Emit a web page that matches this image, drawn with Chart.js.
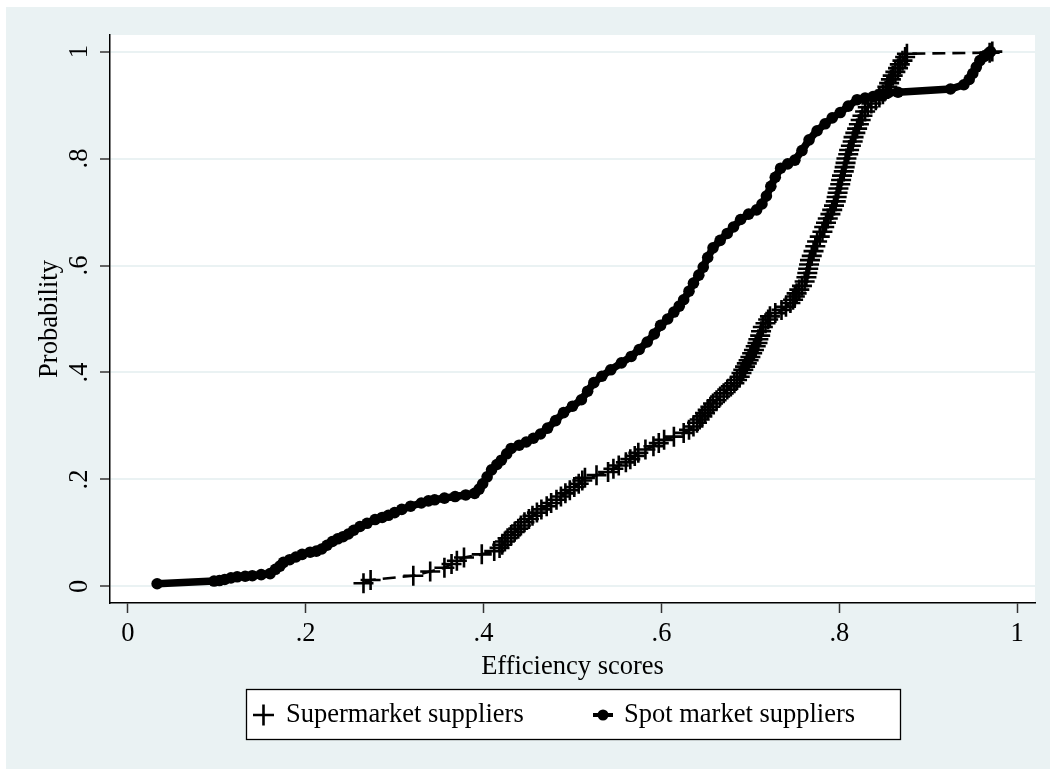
<!DOCTYPE html>
<html><head><meta charset="utf-8">
<script src="https://cdn.jsdelivr.net/npm/chart.js@4.4.1/dist/chart.umd.min.js"></script>
<style>html,body{margin:0;padding:0;background:#EAF2F3;overflow:hidden}canvas{display:block}</style>
</head><body>
<canvas id="c" width="1050" height="769"></canvas>
<script>
// ---------------- DATA ----------------
const seriesLabels = ['Supermarket suppliers', 'Spot market suppliers'];
const xTitle = 'Efficiency scores';
const yTitle = 'Probability';

const xTickValues = [0, 0.2, 0.4, 0.6, 0.8, 1];
const xTickLabels = ['0', '.2', '.4', '.6', '.8', '1'];
const yTickValues = [0, 0.2, 0.4, 0.6, 0.8, 1];
const yTickLabels = ['0', '.2', '.4', '.6', '.8', '1'];

// Supermarket suppliers: efficiency score (x) and cumulative probability (y)
const superX = [0.265,0.273,0.321,0.340,0.356,0.364,0.370,0.378,0.398,0.412,0.418,0.421,0.424,0.427,0.431,0.435,0.439,0.442,0.446,0.451,
  0.455,0.460,0.465,0.471,0.476,0.482,0.487,0.492,0.497,0.502,0.507,0.511,0.514,0.527,0.540,0.546,0.552,0.560,0.565,0.570,
  0.574,0.582,0.591,0.597,0.603,0.614,0.625,0.631,0.636,0.640,0.643,0.646,0.649,0.652,0.655,0.658,0.662,0.666,0.670,0.674,
  0.678,0.682,0.685,0.688,0.690,0.692,0.694,0.696,0.698,0.700,0.702,0.704,0.706,0.708,0.709,0.711,0.712,0.714,0.717,0.720,
  0.722,0.728,0.735,0.740,0.745,0.748,0.750,0.752,0.755,0.758,0.761,0.763,0.764,0.765,0.766,0.767,0.769,0.771,0.773,0.775,
  0.778,0.781,0.783,0.785,0.787,0.790,0.792,0.794,0.796,0.797,0.798,0.799,0.801,0.802,0.803,0.805,0.806,0.807,0.808,0.810,
  0.811,0.813,0.815,0.816,0.818,0.820,0.822,0.824,0.826,0.829,0.832,0.836,0.841,0.845,0.849,0.852,0.854,0.856,0.858,0.860,
  0.863,0.866,0.868,0.871,0.874,0.876,0.969,0.972];
const superY = [0.006,0.012,0.020,0.028,0.035,0.042,0.048,0.054,0.060,0.066,0.072,0.078,0.084,0.090,0.096,0.102,0.108,0.114,0.120,0.126,
  0.132,0.138,0.144,0.150,0.156,0.162,0.168,0.174,0.180,0.186,0.192,0.198,0.203,0.208,0.214,0.220,0.226,0.232,0.238,0.244,
  0.250,0.256,0.262,0.268,0.274,0.280,0.287,0.293,0.299,0.306,0.312,0.318,0.324,0.330,0.336,0.342,0.348,0.355,0.361,0.368,
  0.374,0.380,0.386,0.392,0.399,0.405,0.411,0.417,0.423,0.429,0.436,0.442,0.449,0.455,0.462,0.469,0.477,0.485,0.492,0.499,
  0.505,0.511,0.517,0.523,0.530,0.536,0.542,0.548,0.555,0.562,0.570,0.578,0.586,0.594,0.602,0.610,0.618,0.627,0.636,0.645,
  0.654,0.663,0.672,0.680,0.688,0.696,0.704,0.712,0.720,0.728,0.736,0.744,0.752,0.760,0.768,0.776,0.784,0.792,0.800,0.808,
  0.816,0.824,0.832,0.840,0.848,0.856,0.864,0.872,0.880,0.888,0.896,0.903,0.909,0.914,0.920,0.927,0.934,0.941,0.948,0.955,
  0.962,0.969,0.976,0.983,0.990,0.996,0.998,1.000];

// Spot market suppliers
const spotX = [0.033,0.097,0.103,0.109,0.116,0.123,0.132,0.140,0.150,0.160,0.166,0.171,0.175,0.182,0.189,0.196,0.205,0.212,0.218,0.224,
  0.230,0.236,0.242,0.248,0.254,0.261,0.269,0.278,0.286,0.293,0.300,0.308,0.318,0.330,0.338,0.345,0.356,0.368,0.380,0.390,
  0.395,0.399,0.404,0.409,0.415,0.420,0.426,0.431,0.440,0.448,0.456,0.464,0.472,0.481,0.490,0.500,0.510,0.517,0.524,0.533,
  0.543,0.555,0.566,0.575,0.584,0.592,0.599,0.607,0.614,0.620,0.625,0.631,0.636,0.642,0.647,0.652,0.658,0.666,0.674,0.681,
  0.689,0.698,0.707,0.713,0.718,0.723,0.728,0.734,0.742,0.750,0.758,0.766,0.775,0.784,0.792,0.801,0.810,0.820,0.829,0.838,
  0.846,0.855,0.866,0.925,0.940,0.946,0.950,0.954,0.958,0.963,0.968,0.970];
const spotY = [0.005,0.010,0.011,0.013,0.016,0.018,0.019,0.020,0.022,0.024,0.032,0.038,0.045,0.050,0.055,0.060,0.064,0.066,0.070,0.077,
  0.084,0.089,0.093,0.098,0.105,0.112,0.118,0.125,0.129,0.133,0.138,0.144,0.150,0.156,0.160,0.162,0.165,0.168,0.171,0.174,
  0.182,0.192,0.205,0.218,0.228,0.236,0.248,0.258,0.264,0.270,0.277,0.285,0.296,0.310,0.325,0.337,0.349,0.365,0.381,0.393,
  0.405,0.418,0.430,0.443,0.457,0.472,0.488,0.500,0.513,0.524,0.536,0.552,0.567,0.582,0.597,0.615,0.633,0.647,0.660,0.672,
  0.686,0.696,0.704,0.715,0.730,0.748,0.765,0.782,0.790,0.797,0.815,0.835,0.852,0.865,0.876,0.886,0.898,0.910,0.913,0.916,
  0.920,0.923,0.924,0.930,0.938,0.948,0.959,0.971,0.983,0.991,0.997,1.000];

// ---------------- STYLE ----------------
const FONT_FAMILY = '"Liberation Serif", "Times New Roman", Times, serif';
const FONT_SIZE = 26.5;
const BG = '#EAF2F3';

const superData = superX.map((x, i) => ({x: x, y: superY[i]}));
const spotData = spotX.map((x, i) => ({x: x, y: spotY[i]}));

const bgLegendPlugin = {
  id: 'bgLegend',
  beforeDraw(chart) {
    const {ctx, chartArea: a, width, height} = chart;
    ctx.save();
    ctx.fillStyle = '#fff';
    ctx.fillRect(0, 0, width, height);
    ctx.fillStyle = BG;
    ctx.fillRect(6, 7, width - 6, height - 7);
    ctx.fillStyle = '#fff';
    ctx.fillRect(a.left, a.top, a.right - a.left, a.bottom - a.top);
    ctx.restore();
  },
  afterDraw(chart) {
    const {ctx, chartArea: a} = chart;
    const cx = (a.left + a.right) / 2;
    const w = 654, h = 50;
    const left = Math.round(cx - w / 2), top = Math.round(a.bottom + 86);
    ctx.save();
    ctx.fillStyle = '#fff';
    ctx.fillRect(left, top, w, h);
    ctx.strokeStyle = '#000';
    ctx.lineWidth = 1.3;
    ctx.strokeRect(left + 0.5, top + 0.5, w, h);
    const my = top + h / 2 + 1;
    // plus key
    ctx.lineWidth = 2.6;
    ctx.beginPath();
    ctx.moveTo(left + 7, my); ctx.lineTo(left + 28, my);
    ctx.moveTo(left + 17.5, my - 10.5); ctx.lineTo(left + 17.5, my + 10.5);
    ctx.stroke();
    ctx.fillStyle = '#000';
    ctx.font = FONT_SIZE + 'px ' + FONT_FAMILY;
    ctx.textBaseline = 'middle';
    ctx.textAlign = 'left';
    ctx.fillText(seriesLabels[0], left + 40, my);
    // dot key
    const sx = left + 357;
    ctx.lineWidth = 4;
    ctx.beginPath(); ctx.moveTo(sx - 10, my); ctx.lineTo(sx + 10, my); ctx.stroke();
    ctx.beginPath(); ctx.arc(sx, my, 5.5, 0, Math.PI * 2); ctx.fill();
    ctx.fillText(seriesLabels[1], left + 378, my);
    ctx.restore();
  }
};

const font = {family: FONT_FAMILY, size: FONT_SIZE};

new Chart(document.getElementById('c'), {
  type: 'scatter',
  data: {
    datasets: [
      {
        label: seriesLabels[0], data: superData, showLine: true,
        borderColor: '#000', borderWidth: 2.6, borderDash: [13, 7],
        pointStyle: 'cross', pointRadius: 10, pointBorderWidth: 2.6,
        pointBorderColor: '#000', pointBackgroundColor: '#000', tension: 0
      },
      {
        label: seriesLabels[1], data: spotData, showLine: true,
        borderColor: '#000', borderWidth: 7.5,
        pointStyle: 'circle', pointRadius: 5.8, pointBorderWidth: 0,
        pointBackgroundColor: '#000', pointBorderColor: '#000', tension: 0
      }
    ]
  },
  options: {
    responsive: false,
    animation: false,
    devicePixelRatio: 1,
    layout: {padding: {left: 0, right: 15, top: 35, bottom: 0}},
    plugins: {legend: {display: false}, tooltip: {enabled: false}},
    scales: {
      x: {
        type: 'linear', position: 'bottom', min: -0.02, max: 1.02,
        afterFit(s) { s.height = 166; },
        afterBuildTicks(s) { s.ticks = xTickValues.map(v => ({value: v})); },
        ticks: {
          callback: (v) => { const i = xTickValues.findIndex(t => Math.abs(t - v) < 1e-9); return i >= 0 ? xTickLabels[i] : ''; },
          font: font, color: '#000', padding: 5, autoSkip: false, maxRotation: 0, minRotation: 0
        },
        grid: {drawOnChartArea: false, drawTicks: true, tickLength: 10, tickColor: '#333', tickWidth: 1.5},
        border: {display: true, color: '#000', width: 1.5},
        title: {display: true, text: xTitle, font: font, color: '#000', padding: {top: 0, bottom: 86}}
      },
      y: {
        type: 'linear', position: 'left', min: -0.031, max: 1.031,
        afterFit(s) { s.width = 110; },
        afterBuildTicks(s) { s.ticks = yTickValues.map(v => ({value: v})); },
        ticks: {
          callback: (v) => { const i = yTickValues.findIndex(t => Math.abs(t - v) < 1e-9); return i >= 0 ? yTickLabels[i] : ''; },
          font: font, color: '#000', padding: 10, minRotation: 90, maxRotation: 90, crossAlign: 'center', autoSkip: false
        },
        grid: {color: BG, lineWidth: 2, drawTicks: true, tickLength: 10, tickColor: '#333', tickWidth: 1.5},
        border: {display: true, color: '#000', width: 1.5},
        title: {display: true, text: yTitle, font: font, color: '#000', padding: {top: 34, bottom: 0}}
      }
    }
  },
  plugins: [bgLegendPlugin]
});
</script>
</body></html>
